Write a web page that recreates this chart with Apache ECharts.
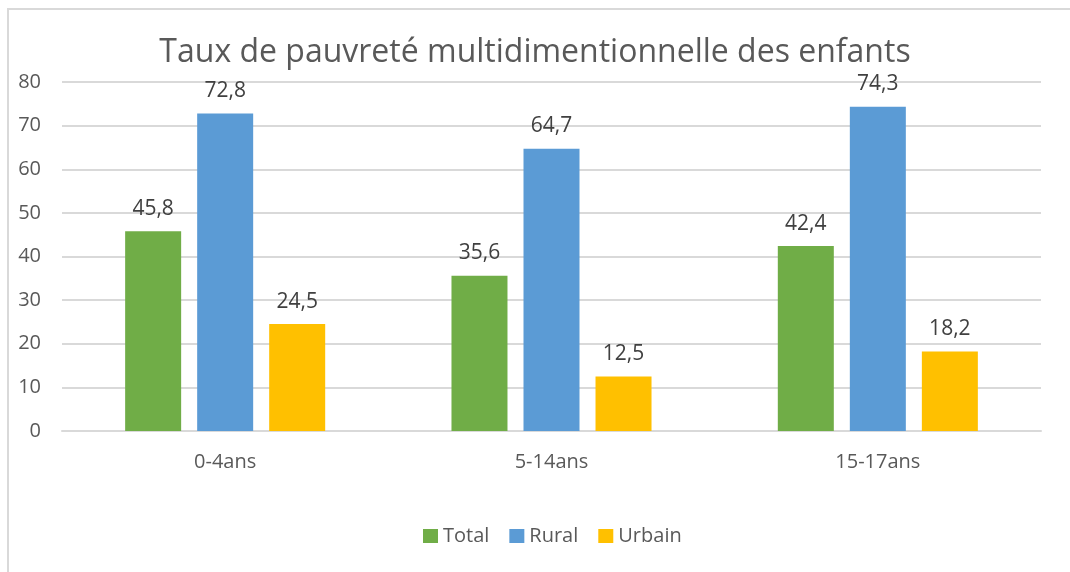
<!DOCTYPE html>
<html lang="fr">
<head>
    <meta charset="UTF-8">
    <title>Taux de pauvreté multidimentionnelle des enfants</title>
    <style>
        body{
            margin: 0;
            overflow: hidden;
        }
        .frame{
            position: absolute;
            left: 7px;
            top: 8px;
            width: 1080px;
            height: 600px;
            border: 2px solid #d9d9d9;
        }
        .chart{
            position: absolute;
            left: 0;
            top: 0;
            width: 1070px;
            height: 572px;
        }
    </style>
    <script src="https://cdn.jsdelivr.net/npm/echarts@6/dist/echarts.min.js"></script>
</head>
<body>
<div class="frame"></div>
<div class="chart"></div>
<script>
    // données
    var categories = ["0-4ans", "5-14ans", "15-17ans"];
    var total = [45.8, 35.6, 42.4];
    var rural = [72.8, 64.7, 74.3];
    var urbain = [24.5, 12.5, 18.2];
    var yTicks = [0, 80, 10];   // min, max, pas

    var txt = "#595959";
    var font = "'Open Sans', 'Noto Sans', sans-serif";

    var my_chart = echarts.init(document.getElementsByClassName("chart")[0]);

    function virgule(p) {
        return String(p.value).replace(".", ",");
    }

    function barre(name, data, color) {
        return {
            name: name,
            type: "bar",
            data: data,
            barGap: "28.6%",
            barCategoryGap: "38.7%",
            itemStyle: {color: color},
            label: {
                show: true,
                position: "top",
                distance: 12,
                color: "#404040",
                fontSize: 21,
                fontFamily: font,
                formatter: virgule
            }
        };
    }

    var option = {
        animation: false,
        textStyle: {fontFamily: font},
        title: {
            text: "Taux de pauvreté multidimentionnelle des enfants",
            left: "center",
            top: 32,
            textStyle: {
                color: txt,
                fontSize: 32,
                fontWeight: "normal",
                fontFamily: font
            }
        },
        legend: {
            bottom: 21,
            left: 418,
            itemWidth: 15,
            itemHeight: 14,
            itemGap: 20,
            icon: "rect",
            textStyle: {color: txt, fontSize: 20, fontFamily: font},
            data: ["Total", "Rural", "Urbain"]
        },
        grid: {
            left: 62,
            right: 29,
            top: 82,
            bottom: 141
        },
        xAxis: {
            type: "category",
            data: categories,
            axisLine: {lineStyle: {color: "#d9d9d9", width: 2}},
            axisTick: {show: false},
            axisLabel: {color: txt, fontSize: 20, margin: 21, fontFamily: font}
        },
        yAxis: {
            type: "value",
            min: yTicks[0],
            max: yTicks[1],
            interval: yTicks[2],
            axisLine: {show: false},
            axisTick: {show: false},
            axisLabel: {color: txt, fontSize: 20, margin: 21, fontFamily: font},
            splitLine: {lineStyle: {color: "#d9d9d9", width: 2}}
        },
        series: [
            barre("Total", total, "#70ad47"),
            barre("Rural", rural, "#5b9bd5"),
            barre("Urbain", urbain, "#ffc000")
        ]
    };
    my_chart.setOption(option);
</script>
</body>
</html>
